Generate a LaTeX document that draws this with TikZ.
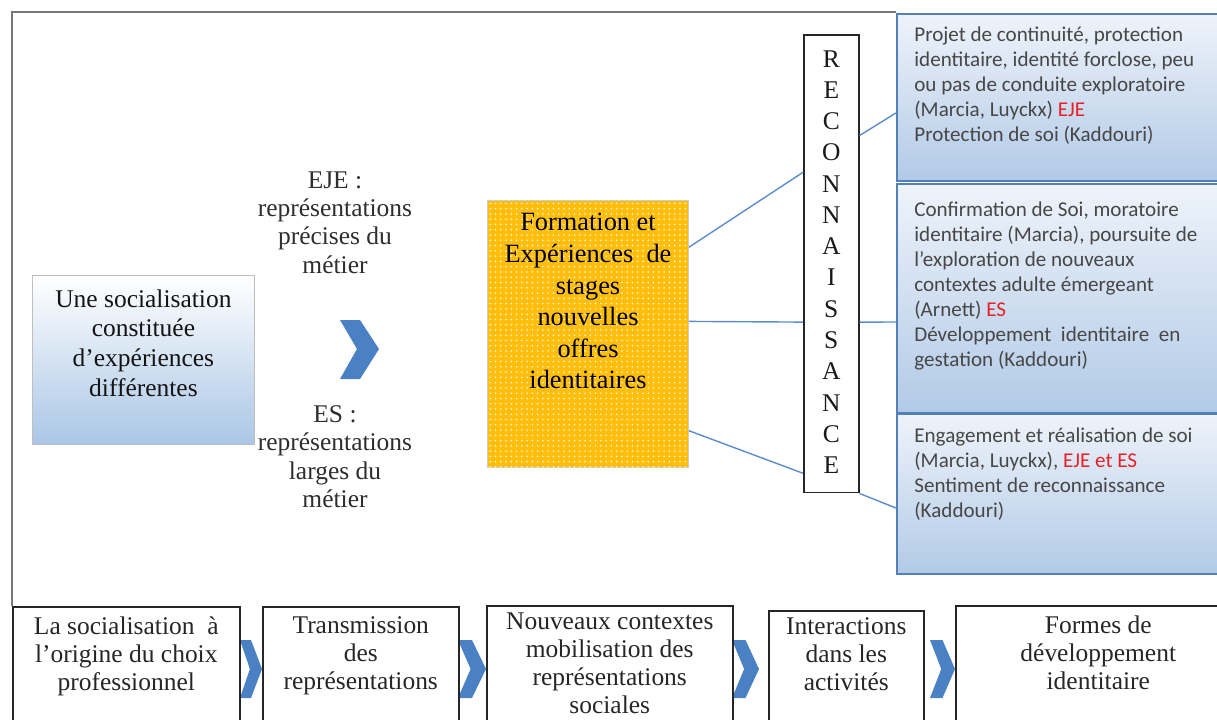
\documentclass[tikz,border=0pt]{standalone}
\usepackage{fontspec}
\setmainfont{Liberation Serif}
\newfontfamily\calib{Carlito}
\usetikzlibrary{positioning,calc,patterns}
\definecolor{chevblue}{RGB}{74,128,196}
\definecolor{linkblue}{RGB}{92,140,206}
\definecolor{edgeblue}{RGB}{84,128,184}
\definecolor{idblue}{RGB}{178,202,231}
\definecolor{socblue}{RGB}{170,198,230}
\definecolor{gold}{RGB}{255,190,10}
\definecolor{ejered}{RGB}{232,32,40}
\definecolor{framegray}{RGB}{120,120,120}

\begin{document}
\begin{tikzpicture}[x=0.02cm,y=-0.02cm,
  sertext/.style={font=\fontsize{14.5}{16.2}\selectfont, text=black!82, align=center, inner sep=0},
  boxtext/.style={font=\fontsize{14.5}{16}\selectfont, text=black!85, align=center, inner sep=0},
  stagebox/.style={draw=black!85, line width=0.9pt, anchor=north west, inner sep=0},
  idbox/.style={draw=edgeblue, line width=0.9pt, top color=idblue!22, bottom color=idblue, anchor=north west, inner sep=0, minimum width=6.88cm},
  idtext/.style={font=\calib\fontsize{12}{14.2}\selectfont, text=black!72, align=left, inner sep=0},
  link/.style={draw=linkblue, line width=0.8pt},
  chev/.style={fill=chevblue, draw=none}]
\useasboundingbox (0,0) rectangle (1217,720);

\draw[framegray, line width=0.8pt] (896,12) -- (12,12) -- (12,606);

\node[anchor=north west, draw=black!25, line width=0.5pt, top color=white, bottom color=socblue, minimum width=4.44cm, minimum height=3.38cm, inner sep=0] (soc) at (32,275) {};
\node[sertext, font=\fontsize{14.5}{16.9}\selectfont, text=black!92, below=0.28cm of soc.north] (soctext) {Une socialisation\\constituée\\d’expériences\\différentes};

\node[sertext, anchor=north] (eje) at (335,171) {EJE :\\représentations\\précises du\\métier};
\node[sertext, anchor=north] (es) at (335,405) {ES :\\représentations\\larges du\\métier};
\fill[chev] (340,320) -- (360,320) -- (379,349) -- (360,379) -- (340,379) -- (357,349) -- cycle;

\node[anchor=north west, draw=black!20, line width=0.6pt, fill=gold, postaction={pattern=dots, pattern color=white!92!gold}, minimum width=4.02cm, minimum height=5.34cm, inner sep=0] (form) at (487,200) {};
\node[sertext, font=\fontsize{15}{18}\selectfont, text=black, below=0.26cm of form.north] (formtext) {Formation et\\Expériences~ de\\stages\\nouvelles\\offres\\identitaires};

\node[anchor=north west, draw=black!85, line width=0.9pt, fill=white, minimum width=1.1cm, minimum height=9.16cm, inner sep=0] (recon) at (803,34) {};
\node[sertext, font=\fontsize{14.5}{17.8}\selectfont, text=black!90, below=0.32cm of recon.north] (recontext) {R\\E\\C\\O\\N\\N\\A\\I\\S\\S\\A\\N\\C\\E};

\node[idbox, minimum height=3.34cm] (id1) at (896,13) {};
\node[idbox, minimum height=4.58cm] (id2) at (896,183) {};
\node[idbox, minimum height=3.2cm] (id3) at (896,413) {};
\node[idtext, below right=0.28cm and 0.36cm of id1.north west] (id1text) {Projet de continuité, protection\\identitaire, identité forclose, peu\\ou pas de conduite exploratoire\\(Marcia, Luyckx) \textcolor{ejered}{EJE}\\Protection de soi (Kaddouri)};
\node[idtext, below right=0.38cm and 0.36cm of id2.north west] (id2text) {Confirmation de Soi, moratoire\\identitaire (Marcia), poursuite de\\l’exploration de nouveaux\\contextes adulte émergeant\\(Arnett) \textcolor{ejered}{ES}\\Développement~ identitaire~ en\\gestation (Kaddouri)};
\node[idtext, below right=0.3cm and 0.36cm of id3.north west] (id3text) {Engagement et réalisation de soi\\(Marcia, Luyckx), \textcolor{ejered}{EJE et ES}\\Sentiment de reconnaissance\\(Kaddouri)};

\draw[link] ($(form.north east)!0.176!(form.south east)$) -- ($(recon.north west)!0.301!(recon.south west)$);
\draw[link] ($(recon.north east)!0.221!(recon.south east)$) -- ($(id1.north west)!0.593!(id1.south west)$);
\draw[link] ($(form.north east)!0.453!(form.south east)$) -- ($(recon.north west)!0.627!(recon.south west)$);
\draw[link] ($(recon.north east)!0.627!(recon.south east)$) -- ($(id2.north west)!0.603!(id2.south west)$);
\draw[link] ($(form.north east)!0.861!(form.south east)$) -- ($(recon.north west)!0.956!(recon.south west)$);
\draw[link] (recon.south east) -- ($(id3.north west)!0.588!(id3.south west)$);

\foreach \l/\r in {240/262, 458/486, 732/759, 930/955}
  \fill[chev] (\l,640) -- ({\l+0.5*(\r-\l)},640) -- (\r,669) -- ({\l+0.5*(\r-\l)},698) -- (\l,698) -- ({\l+0.45*(\r-\l)},669) -- cycle;

\node[stagebox, minimum width=4.54cm, minimum height=2.68cm] (st1) at (12,606) {};
\node[stagebox, minimum width=3.92cm, minimum height=2.68cm] (st2) at (262,606) {};
\node[stagebox, minimum width=4.92cm, minimum height=2.7cm] (st3) at (486,605) {};
\node[stagebox, minimum width=3.1cm, minimum height=2.6cm] (st4) at (768,610) {};
\node[stagebox, minimum width=5.7cm, minimum height=2.7cm] (st5) at (955,605) {};
\node[boxtext, below=0.2cm of st1.north] (st1text) {La socialisation~ à\\l’origine du choix\\professionnel};
\node[boxtext, below=0.2cm of st2.north] (st2text) {Transmission\\des\\représentations};
\node[boxtext, below=0.14cm of st3.north] (st3text) {Nouveaux contextes\\mobilisation des\\représentations\\sociales};
\node[boxtext, below=0.14cm of st4.north] (st4text) {Interactions\\dans les\\activités};
\node[boxtext, below=0.2cm of st5.north] (st5text) {Formes de\\développement\\identitaire};
\end{tikzpicture}
\end{document}
